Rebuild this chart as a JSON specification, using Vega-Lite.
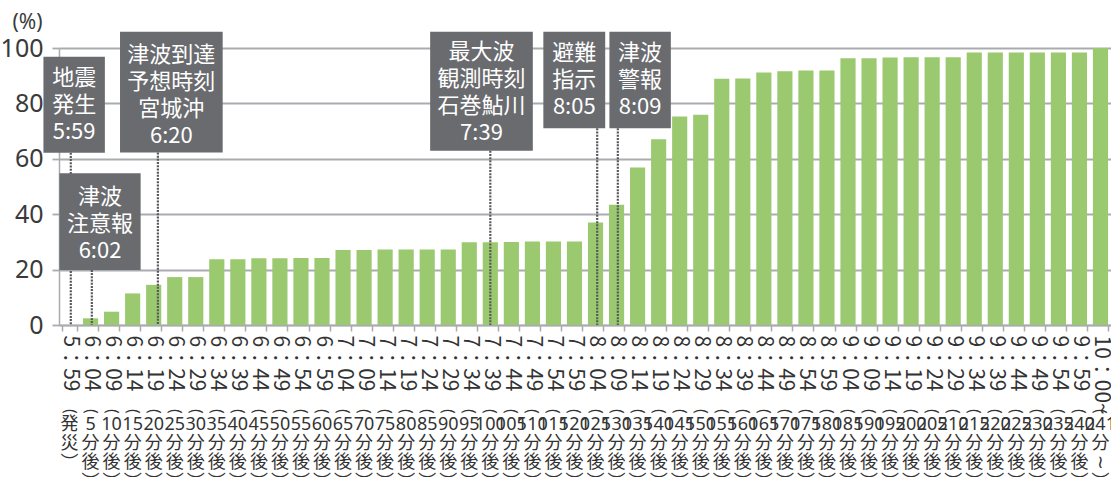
{
  "$schema": "https://vega.github.io/schema/vega-lite/v6.json",
  "autosize": "none",
  "width": 1052,
  "height": 277,
  "padding": {"left": 59, "top": 48, "right": 0, "bottom": 152},
  "background": "#ffffff",
  "datasets": {
    "bars": [
      {"time": "5:59", "elapsed": "発災", "pct": 0},
      {"time": "6:04", "elapsed": "5分後", "pct": 2.4},
      {"time": "6:09", "elapsed": "10分後", "pct": 4.8},
      {"time": "6:14", "elapsed": "15分後", "pct": 11.4},
      {"time": "6:19", "elapsed": "20分後", "pct": 14.5},
      {"time": "6:24", "elapsed": "25分後", "pct": 17.3},
      {"time": "6:29", "elapsed": "30分後", "pct": 17.3},
      {"time": "6:34", "elapsed": "35分後", "pct": 23.7},
      {"time": "6:39", "elapsed": "40分後", "pct": 23.7},
      {"time": "6:44", "elapsed": "45分後", "pct": 24.1},
      {"time": "6:49", "elapsed": "50分後", "pct": 24.1},
      {"time": "6:54", "elapsed": "55分後", "pct": 24.2},
      {"time": "6:59", "elapsed": "60分後", "pct": 24.2},
      {"time": "7:04", "elapsed": "65分後", "pct": 27.1},
      {"time": "7:09", "elapsed": "70分後", "pct": 27.1},
      {"time": "7:14", "elapsed": "75分後", "pct": 27.3},
      {"time": "7:19", "elapsed": "80分後", "pct": 27.3},
      {"time": "7:24", "elapsed": "85分後", "pct": 27.3},
      {"time": "7:29", "elapsed": "90分後", "pct": 27.3},
      {"time": "7:34", "elapsed": "95分後", "pct": 29.9},
      {"time": "7:39", "elapsed": "100分後", "pct": 29.9},
      {"time": "7:44", "elapsed": "105分後", "pct": 30.0},
      {"time": "7:49", "elapsed": "110分後", "pct": 30.1},
      {"time": "7:54", "elapsed": "115分後", "pct": 30.1},
      {"time": "7:59", "elapsed": "120分後", "pct": 30.1},
      {"time": "8:04", "elapsed": "125分後", "pct": 37.0},
      {"time": "8:09", "elapsed": "130分後", "pct": 43.4},
      {"time": "8:14", "elapsed": "135分後", "pct": 56.9},
      {"time": "8:19", "elapsed": "140分後", "pct": 67.1},
      {"time": "8:24", "elapsed": "145分後", "pct": 75.3},
      {"time": "8:29", "elapsed": "150分後", "pct": 75.9},
      {"time": "8:34", "elapsed": "155分後", "pct": 88.9},
      {"time": "8:39", "elapsed": "160分後", "pct": 89.0},
      {"time": "8:44", "elapsed": "165分後", "pct": 91.2},
      {"time": "8:49", "elapsed": "170分後", "pct": 91.6},
      {"time": "8:54", "elapsed": "175分後", "pct": 91.9},
      {"time": "8:59", "elapsed": "180分後", "pct": 91.9},
      {"time": "9:04", "elapsed": "185分後", "pct": 96.3},
      {"time": "9:09", "elapsed": "190分後", "pct": 96.3},
      {"time": "9:14", "elapsed": "195分後", "pct": 96.6},
      {"time": "9:19", "elapsed": "200分後", "pct": 96.7},
      {"time": "9:24", "elapsed": "205分後", "pct": 96.7},
      {"time": "9:29", "elapsed": "210分後", "pct": 96.7},
      {"time": "9:34", "elapsed": "215分後", "pct": 98.4},
      {"time": "9:39", "elapsed": "220分後", "pct": 98.4},
      {"time": "9:44", "elapsed": "225分後", "pct": 98.4},
      {"time": "9:49", "elapsed": "230分後", "pct": 98.4},
      {"time": "9:54", "elapsed": "235分後", "pct": 98.4},
      {"time": "9:59", "elapsed": "240分後", "pct": 98.4},
      {"time": "10:00~", "elapsed": "241分~", "pct": 100}
    ],
    "events": [
      {"event": "地震発生", "at": 0.3, "label": ["地震", "発生", "5:59"], "x0": -6.2, "x1": 8.4, "y0": 62.2, "y1": 96.8, "tx": 1.1, "ty": 89.2},
      {"event": "津波注意報", "at": 5.3, "label": ["津波", "注意報", "6:02"], "x0": -2.4, "x1": 16.9, "y0": 19.9, "y1": 54.8, "tx": 7.25, "ty": 46.3},
      {"event": "津波到達予想時刻 宮城沖", "at": 21, "label": ["津波到達", "予想時刻", "宮城沖", "6:20"], "x0": 12.0, "x1": 36.4, "y0": 62.3, "y1": 105.9, "tx": 24.2, "ty": 97.5},
      {"event": "最大波観測時刻 石巻鮎川", "at": 100, "label": ["最大波", "観測時刻", "石巻鮎川", "7:39"], "x0": 85.7, "x1": 110.1, "y0": 62.9, "y1": 105.9, "tx": 97.9, "ty": 98.5},
      {"event": "避難指示", "at": 125.4, "label": ["避難", "指示", "8:05"], "x0": 112.6, "x1": 127.3, "y0": 71.0, "y1": 105.9, "tx": 119.95, "ty": 98.1},
      {"event": "津波警報", "at": 130.3, "label": ["津波", "警報", "8:09"], "x0": 128.3, "x1": 142.9, "y0": 71.0, "y1": 105.9, "tx": 135.6, "ty": 98.1}
    ]
  },
  "resolve": {"scale": {"x": "independent"}, "axis": {"x": "independent"}},
  "layer": [
    {
      "data": {"name": "bars"},
      "mark": {"type": "bar", "color": "#9bc96f"},
      "encoding": {
        "x": {
          "field": "time", "type": "nominal", "sort": null,
          "scale": {"paddingInner": 0.28, "paddingOuter": 0.14},
          "axis": {
            "orient": "bottom", "title": null, "grid": false,
            "tickBand": "extent", "domainColor": "#a9abb0", "domainWidth": 1.5,
            "tickColor": "#a9abb0", "tickWidth": 1.5, "tickSize": 6,
            "labelAngle": 90, "labelAlign": "left", "labelBaseline": "middle",
            "labelPadding": 4, "labelFontSize": 21, "labelColor": "#333333",
            "labelFont": "Noto Sans CJK JP", "labelOverlap": false, "labelFlush": false,
            "labelExpr": "replace(datum.label, ':', '：')"
          }
        },
        "y": {
          "field": "pct", "type": "quantitative", "title": "(%)", "scale": {"domain": [0, 100]},
          "axis": {"values": [0, 10, 20, 30, 40, 50, 60, 70, 80, 90, 100], "labelOverlap": false}
        }
      }
    },
    {
      "data": {"name": "bars"},
      "mark": {"type": "bar", "opacity": 0},
      "encoding": {
        "x": {
          "field": "elapsed", "type": "nominal", "sort": null,
          "scale": {"paddingInner": 0.28, "paddingOuter": 0.14},
          "axis": {
            "orient": "bottom", "title": null, "grid": false, "domain": false, "ticks": false,
            "labelAngle": 90, "labelAlign": "center", "labelBaseline": "middle",
            "labelPadding": 86, "labelFontSize": 16,
            "labelColor": "#333333", "labelFont": "Noto Sans",
            "labelOverlap": false, "labelFlush": false,
            "labelExpr": "'('"
          }
        }
      }
    },
    {
      "data": {"name": "bars"},
      "mark": {"type": "bar", "opacity": 0},
      "encoding": {
        "x": {
          "field": "elapsed", "type": "nominal", "sort": null,
          "scale": {"paddingInner": 0.28, "paddingOuter": 0.14},
          "axis": {
            "orient": "bottom", "title": null, "grid": false, "domain": false, "ticks": false,
            "labelAngle": 0, "labelAlign": "center", "labelBaseline": "top",
            "labelPadding": 109, "labelFontSize": 18, "labelLineHeight": 19.5,
            "labelColor": "#333333", "labelFont": "Noto Sans CJK JP",
            "labelOverlap": false, "labelFlush": false,
            "labelExpr": "datum.label == '発災' ? '' : ['分', split(datum.label,'分')[1] == '~' ? '≀' : split(datum.label,'分')[1], '︶']"
          }
        }
      }
    },
    {
      "data": {"name": "bars"},
      "mark": {"type": "bar", "opacity": 0},
      "encoding": {
        "x": {
          "field": "elapsed", "type": "nominal", "sort": null,
          "scale": {"paddingInner": 0.28, "paddingOuter": 0.14},
          "axis": {
            "orient": "bottom", "title": null, "grid": false, "domain": false, "ticks": false,
            "labelAngle": 0, "labelAlign": "center", "labelBaseline": "middle",
            "labelPadding": 99, "labelLineHeight": 19.5,
            "labelFontSize": {"condition": {"test": "length(datum.label) > 5", "value": 13.5}, "value": 18},
            "labelColor": "#333333", "labelFont": "Noto Sans, Noto Sans CJK JP",
            "labelOverlap": false, "labelFlush": false,
            "labelExpr": "datum.label == '発災' ? ['発','災','︶'] : split(datum.label,'分')[0]"
          }
        }
      }
    },
    {
      "data": {"name": "events"},
      "mark": {"type": "rule", "color": "#58585c", "strokeWidth": 2.2, "strokeDash": [2, 1.2]},
      "encoding": {
        "x": {"field": "at", "type": "quantitative", "scale": {"domain": [-2.5, 247.5], "nice": false, "zero": false}, "axis": null},
        "y": {"field": "y0", "type": "quantitative", "title": "(%)", "scale": {"domain": [0, 100]}},
        "y2": {"datum": 0}
      }
    },
    {
      "data": {"name": "events"},
      "mark": {"type": "rect", "color": "#6a6b6f"},
      "encoding": {
        "x": {"field": "x0", "type": "quantitative", "scale": {"domain": [-2.5, 247.5], "nice": false, "zero": false}, "axis": null},
        "x2": {"field": "x1"},
        "y": {"field": "y0", "type": "quantitative", "title": "(%)", "scale": {"domain": [0, 100]}},
        "y2": {"field": "y1"}
      }
    },
    {
      "data": {"name": "events"},
      "mark": {"type": "text", "color": "#ffffff", "font": "Noto Sans CJK JP", "fontSize": 22, "lineHeight": 27, "align": "center", "baseline": "middle"},
      "encoding": {
        "x": {"field": "tx", "type": "quantitative", "scale": {"domain": [-2.5, 247.5], "nice": false, "zero": false}, "axis": null},
        "y": {"field": "ty", "type": "quantitative", "title": "(%)", "scale": {"domain": [0, 100]}},
        "text": {"field": "label"}
      }
    }
  ],
  "config": {
    "view": {"stroke": null},
    "font": "Noto Sans CJK JP",
    "axisY": {
      "grid": true, "gridColor": "#a9abb0", "gridWidth": 1.8,
      "domain": true, "domainColor": "#a9abb0", "domainWidth": 1.5,
      "ticks": true, "tickColor": "#a9abb0", "tickWidth": 1.8, "tickSize": 7,
      "labelFont": "Noto Sans", "labelFontSize": 25, "labelColor": "#3a3a3a", "labelPadding": 9,
      "titleAngle": 0, "titleAlign": "right", "titleBaseline": "middle",
      "titleX": -17, "titleY": -26, "titleFont": "Noto Sans", "titleFontSize": 21,
      "titleFontWeight": "normal", "titleColor": "#3a3a3a"
    }
  }
}
